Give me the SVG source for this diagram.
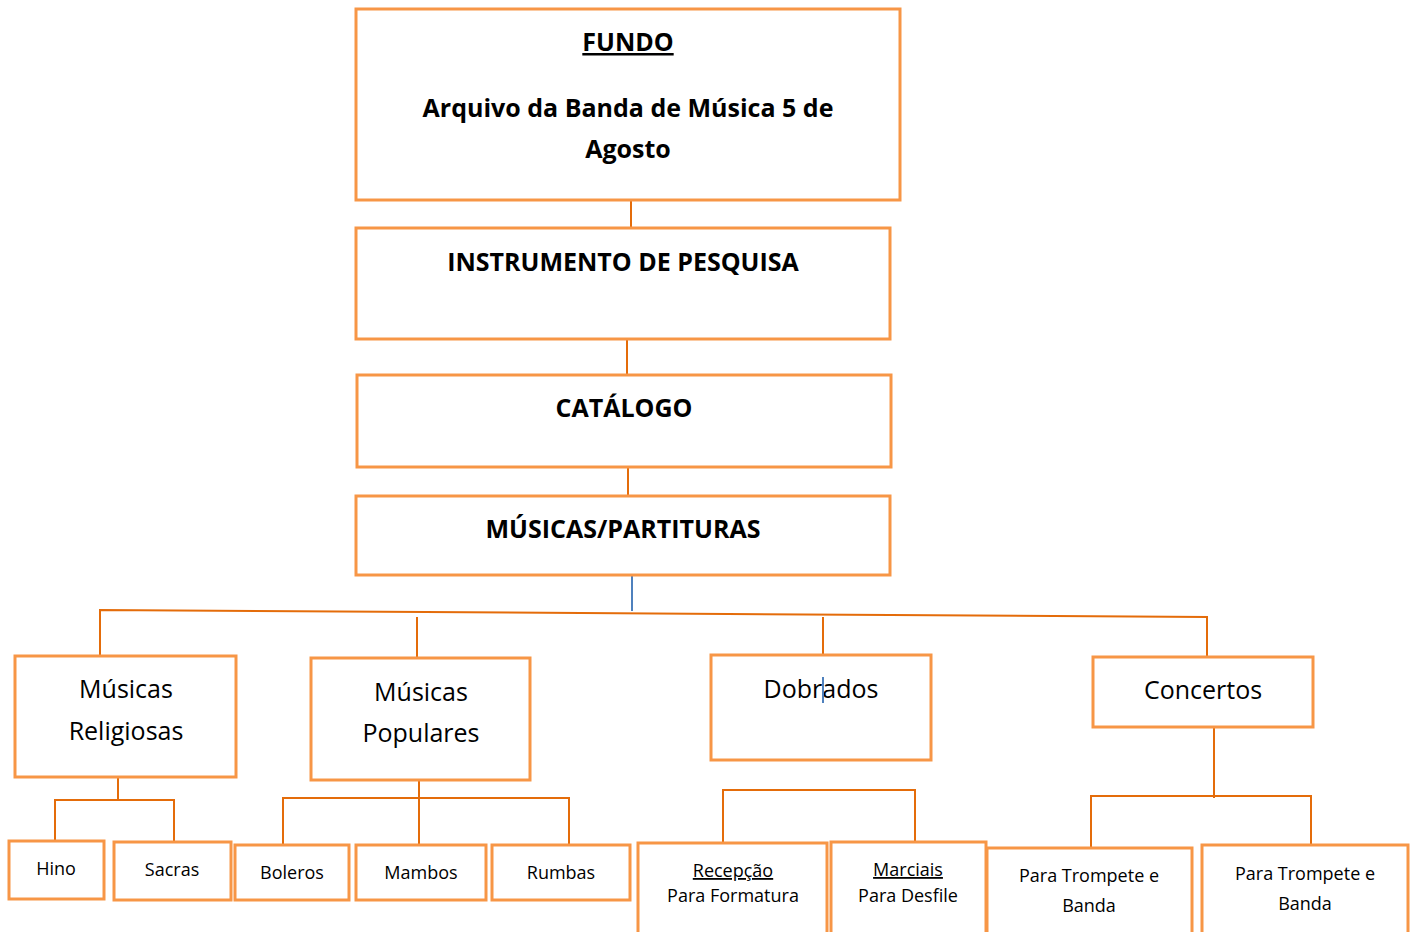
<svg xmlns="http://www.w3.org/2000/svg" width="1413" height="932" viewBox="0 0 1413 932">
<style>
.box{fill:#fff;stroke:#F79646;stroke-width:3}
.con{fill:none;stroke:#E46C0A;stroke-width:2}
.blue{fill:none;stroke:#4F81BD;stroke-width:2}
text{font-family:"Open Sans","Noto Sans","Liberation Sans",sans-serif;fill:#000;text-anchor:middle}
.h{font-weight:bold;font-size:25px}
.m{font-size:25px}
.s{font-size:18px}
.u{text-decoration:underline}
</style>
<rect width="1413" height="932" fill="#fff"/>
<g id="connectors">
<line class="con" x1="631" y1="200" x2="631" y2="228"/>
<line class="con" x1="627" y1="339" x2="627" y2="378"/>
<line class="con" x1="628" y1="462" x2="628" y2="498"/>
<line class="blue" x1="632" y1="571" x2="632" y2="611"/>
<polyline class="con" points="100,656 100,610 1207,617 1207,657"/>
<line class="con" x1="417" y1="617" x2="417" y2="658"/>
<line class="con" x1="823" y1="617" x2="823" y2="655"/>
<line class="con" x1="118" y1="775" x2="118" y2="800"/>
<polyline class="con" points="55,845 55,800 174,800 174,846"/>
<line class="con" x1="419" y1="777" x2="419" y2="847"/>
<polyline class="con" points="283,845 283,798 569,798 569,852"/>
<polyline class="con" points="723,851 723,790 915,790 915,850"/>
<line class="con" x1="1214" y1="722" x2="1214" y2="798"/>
<polyline class="con" points="1091,852 1091,796 1311,796 1311,852"/>
</g>
<g id="fundo"><rect class="box" x="356" y="9" width="544" height="191"/>
<text class="h u" x="628" y="51">FUNDO</text>
<text class="h" x="628" y="117">Arquivo da Banda de Música 5 de</text>
<text class="h" x="628" y="158">Agosto</text></g>
<g id="instrumento"><rect class="box" x="356" y="228" width="534" height="111"/>
<text class="h" x="623" y="271">INSTRUMENTO DE PESQUISA</text></g>
<g id="catalogo"><rect class="box" x="357" y="375" width="534" height="92"/>
<text class="h" x="624" y="417">CATÁLOGO</text></g>
<g id="musicas"><rect class="box" x="356" y="496" width="534" height="79"/>
<text class="h" x="623" y="538">MÚSICAS/PARTITURAS</text></g>
<g id="religiosas"><rect class="box" x="15" y="656" width="221" height="121"/>
<text class="m" x="126" y="698">Músicas</text>
<text class="m" x="126" y="740">Religiosas</text></g>
<g id="populares"><rect class="box" x="311" y="658" width="219" height="122"/>
<text class="m" x="421" y="701">Músicas</text>
<text class="m" x="421" y="742">Populares</text></g>
<g id="dobrados"><rect class="box" x="711" y="655" width="220" height="105"/>
<text class="m" x="821" y="698">Dobrados</text>
<line class="blue" x1="823" y1="677" x2="823" y2="703" stroke-width="1.5"/></g>
<g id="concertos"><rect class="box" x="1093" y="657" width="220" height="70"/>
<text class="m" x="1203" y="699">Concertos</text></g>
<g id="hino"><rect class="box" x="9" y="841" width="95" height="58"/>
<text class="s" x="56" y="875">Hino</text></g>
<g id="sacras"><rect class="box" x="114" y="842" width="117" height="58"/>
<text class="s" x="172" y="876">Sacras</text></g>
<g id="boleros"><rect class="box" x="235" y="845" width="114" height="55"/>
<text class="s" x="292" y="879">Boleros</text></g>
<g id="mambos"><rect class="box" x="356" y="845" width="130" height="55"/>
<text class="s" x="421" y="879">Mambos</text></g>
<g id="rumbas"><rect class="box" x="492" y="845" width="138" height="55"/>
<text class="s" x="561" y="879">Rumbas</text></g>
<g id="recepcao"><rect class="box" x="638" y="843" width="189" height="100"/>
<text class="s u" x="733" y="877">Recepção</text>
<text class="s" x="733" y="902">Para Formatura</text></g>
<g id="marciais"><rect class="box" x="831" y="842" width="155" height="100"/>
<text class="s u" x="908" y="876">Marciais</text>
<text class="s" x="908" y="902">Para Desfile</text></g>
<g id="trompete1"><rect class="box" x="987" y="848" width="205" height="100"/>
<text class="s" x="1089" y="882">Para Trompete e</text>
<text class="s" x="1089" y="912">Banda</text></g>
<g id="trompete2"><rect class="box" x="1202" y="845" width="206" height="100"/>
<text class="s" x="1305" y="880">Para Trompete e</text>
<text class="s" x="1305" y="910">Banda</text></g>
</svg>
